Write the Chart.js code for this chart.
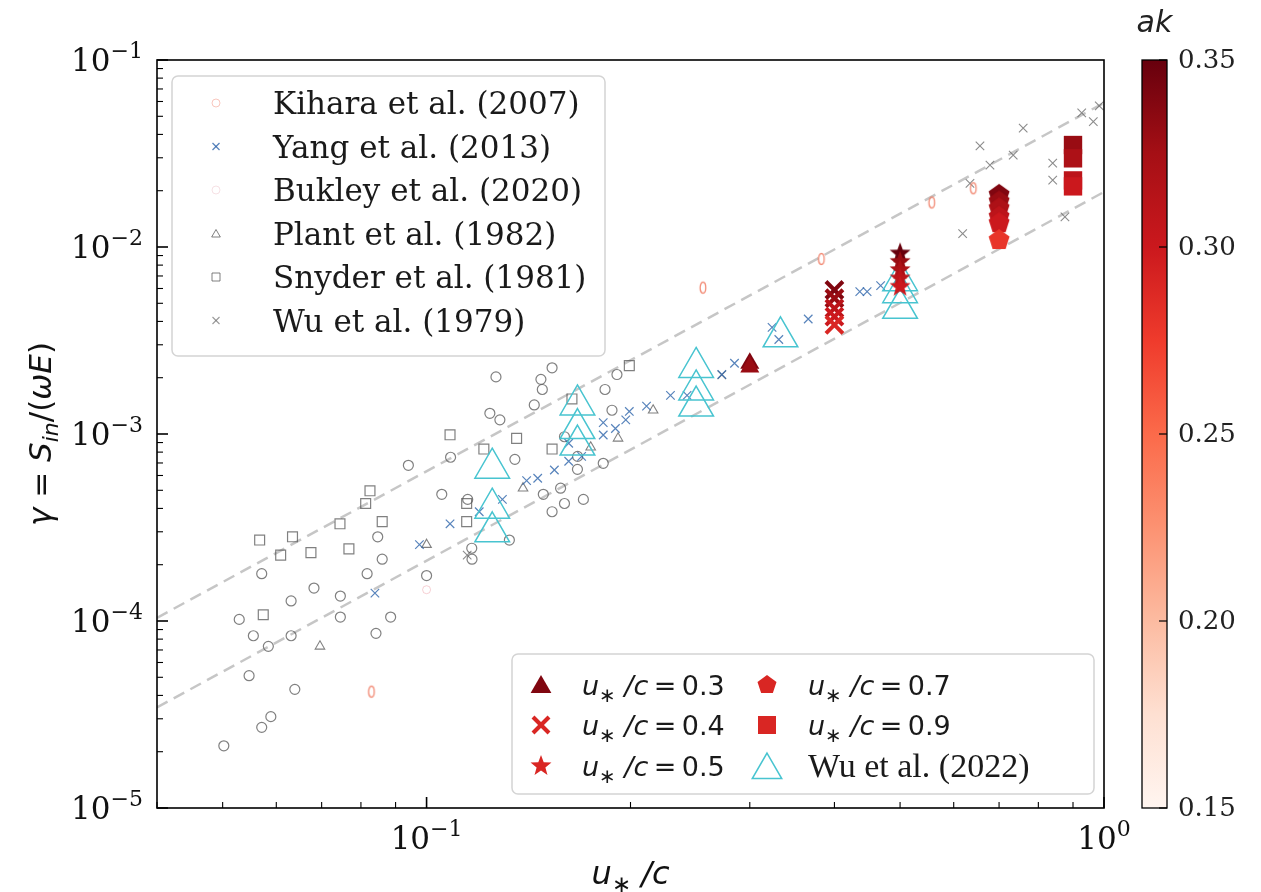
<!DOCTYPE html>
<html>
<head>
<meta charset="utf-8">
<script src="https://cdn.jsdelivr.net/npm/chart.js@4.4.1/dist/chart.umd.min.js"></script>
<style>
    html, body { margin: 0; padding: 0; background: #ffffff; }
    #wrap { width: 1261px; height: 892px; }
</style>
</head>
<body>
<div id="wrap"><canvas id="chart" width="1261" height="892"></canvas></div>
<script>
// ---- data ----
// grey open circles (no legend entry)
const circX = [0.1266, 0.1532, 0.1475, 0.1482, 0.1442, 0.1240, 0.1283, 0.0940, 0.1085, 0.1350, 0.1053, 0.1150,
    0.1487, 0.1577, 0.1532, 0.1598, 0.1704, 0.1670, 0.1823, 0.1671, 0.1598, 0.1325, 0.0847, 0.0860, 0.1166, 0.1167,
    0.0571, 0.0817, 0.1000, 0.1834, 0.1910, 0.1878, 0.0682, 0.0631, 0.0746, 0.0529, 0.0555, 0.0584, 0.0631, 0.0746,
    0.0842, 0.0885, 0.0547, 0.0639, 0.0589, 0.0571, 0.0502];
const circY = [2.02e-3, 2.26e-3, 1.96e-3, 1.73e-3, 1.43e-3, 1.29e-3, 1.19e-3, 6.80e-4, 7.51e-4, 7.32e-4, 4.76e-4, 4.47e-4,
    4.76e-4, 5.13e-4, 3.84e-4, 4.25e-4, 4.47e-4, 6.47e-4, 6.97e-4, 7.59e-4, 9.67e-4, 2.71e-4, 2.82e-4, 2.14e-4, 2.45e-4, 2.14e-4,
    1.79e-4, 1.79e-4, 1.75e-4, 1.73e-3, 2.08e-3, 1.34e-3, 1.50e-4, 1.28e-4, 1.36e-4, 1.02e-4, 8.34e-5, 7.32e-5, 8.34e-5, 1.05e-4,
    8.59e-5, 1.05e-4, 5.10e-5, 4.31e-5, 3.08e-5, 2.70e-5, 2.15e-5];

const kiharaX = [0.0829, 0.2558, 0.3826, 0.5568, 0.6412];
const kiharaY = [4.19e-5, 6.06e-3, 8.63e-3, 1.73e-2, 2.06e-2];

const yangX = [0.1083, 0.0976, 0.0839, 0.1196, 0.1294, 0.1405, 0.1459, 0.1544, 0.1621, 0.1621, 0.1823, 0.1823, 0.1694,
    0.1900, 0.1968, 0.1992, 0.2112, 0.2291, 0.2424, 0.2728, 0.2848, 0.3236, 0.3311, 0.3659, 0.436, 0.447, 0.468];
const yangY = [3.31e-4, 2.56e-4, 1.41e-4, 3.84e-4, 4.47e-4, 5.63e-4, 5.80e-4, 6.42e-4, 7.15e-4, 8.92e-4, 1.15e-3, 9.88e-4, 7.59e-4,
    1.07e-3, 1.19e-3, 1.32e-3, 1.41e-3, 1.61e-3, 1.61e-3, 2.08e-3, 2.39e-3, 3.72e-3, 3.20e-3, 4.12e-3, 5.77e-3, 5.77e-3, 6.21e-3];

const bukleyX = [0.1];
const bukleyY = [1.47e-4];

const plantX = [0.0696, 0.1, 0.1388, 0.1747, 0.1917, 0.216];
const plantY = [7.32e-5, 2.56e-4, 5.13e-4, 8.49e-4, 9.48e-4, 1.34e-3];

const snyderX = [0.1083, 0.1358, 0.1215, 0.1532, 0.1639, 0.1992, 0.0825, 0.0813, 0.0745, 0.0860, 0.1146, 0.1146,
    0.0567, 0.0634, 0.0609, 0.0675, 0.0768, 0.0574];
const snyderY = [9.90e-4, 9.48e-4, 8.31e-4, 8.31e-4, 1.54e-3, 2.32e-3, 4.97e-4, 4.25e-4, 3.31e-4, 3.40e-4, 4.25e-4, 3.40e-4,
    2.71e-4, 2.82e-4, 2.25e-4, 2.32e-4, 2.43e-4, 1.08e-4];

const wu79X = [0.1148, 0.2728, 0.7598, 0.656, 0.6787, 0.7345, 0.927, 0.984, 0.9643, 0.84, 0.84, 0.6185, 0.8757, 0.8887, 0.6341];
const wu79Y = [2.25e-4, 2.07e-3, 4.32e-2, 3.47e-2, 2.74e-2, 3.10e-2, 5.22e-2, 5.68e-2, 4.68e-2, 2.81e-2, 2.28e-2, 1.18e-2, 1.45e-2, 3.47e-2, 2.19e-2];

const wu22X = [0.125, 0.125, 0.125, 0.167, 0.167, 0.167, 0.25, 0.25, 0.25, 0.333, 0.5, 0.5, 0.5];
const wu22Y = [6.56e-4, 4.01e-4, 3.00e-4, 1.43e-3, 1.07e-3, 8.73e-4, 2.27e-3, 1.72e-3, 1.41e-3, 3.31e-3, 4.7e-3, 5.7e-3, 6.6e-3];

// present simulations, one group per u*/c, coloured by ak
const ratios = [0.3, 0.4, 0.5, 0.7, 0.9];
const sim03Y = [2.39e-3, 2.28e-3];
const sim03Ak = [0.34, 0.33];
const sim04Y = [5.89e-3, 5.32e-3, 4.70e-3, 4.24e-3, 3.83e-3];
const sim04Ak = [0.34, 0.33, 0.31, 0.30, 0.29];
const sim05Y = [9.24e-3, 8.33e-3, 7.53e-3, 6.80e-3, 6.13e-3];
const sim05Ak = [0.35, 0.33, 0.32, 0.31, 0.30];
const sim07Y = [1.90e-2, 1.75e-2, 1.61e-2, 1.45e-2, 1.34e-2, 1.09e-2];
const sim07Ak = [0.34, 0.33, 0.32, 0.31, 0.30, 0.28];
const sim09Y = [3.51e-2, 2.98e-2, 2.27e-2, 2.11e-2];
const sim09Ak = [0.33, 0.32, 0.31, 0.30];

// dashed guide lines (end points)
const fitX = [0.04, 1.0];
const fitUpperY = [1.04e-4, 5.9e-2];
const fitLowerY = [3.45e-5, 1.97e-2];

// axes / colour bar ticks
const xTicks = [0.1, 1];
const yTicks = [1e-5, 1e-4, 1e-3, 1e-2, 1e-1];
const cbarTicks = [0.15, 0.20, 0.25, 0.30, 0.35];

// ---- helpers ----
const redsStops = ['#fff5f0', '#fee0d2', '#fcbba1', '#fc9272', '#fb6a4a', '#ef3b2c', '#cb181d', '#a50f15', '#67000d'];

function hexToRgb(h) {
    const n = parseInt(h.slice(1), 16);
    return [(n >> 16) & 255, (n >> 8) & 255, n & 255];
}

function reds(t) {
    t = Math.max(0, Math.min(1, t));
    const p = t * (redsStops.length - 1);
    const i = Math.min(Math.floor(p), redsStops.length - 2);
    const f = p - i;
    const a = hexToRgb(redsStops[i]);
    const b = hexToRgb(redsStops[i + 1]);
    const c = a.map((v, k) => Math.round(v + (b[k] - v) * f));
    return `rgb(${c[0]},${c[1]},${c[2]})`;
}

function akColor(ak) {
    const lo = cbarTicks[0];
    const hi = cbarTicks[cbarTicks.length - 1];
    return reds((ak - lo) / (hi - lo));
}

function pts(xs, ys) {
    return xs.map((x, i) => ({ x: x, y: ys[i] }));
}

// polygon marker drawn into a small canvas, used as a Chart.js pointStyle
function polyMarker(shape, color, r) {
    const s = Math.ceil(r * 2 + 4);
    const c = document.createElement('canvas');
    c.width = s;
    c.height = s;
    const g = c.getContext('2d');
    tracePoly(g, shape, s / 2, s / 2, r);
    g.fillStyle = color;
    g.fill();
    return c;
}

function tracePoly(g, shape, cx, cy, r) {
    g.beginPath();
    if (shape === 'star') {
        for (let i = 0; i < 10; i++) {
            const rr = i % 2 ? r * 0.42 : r;
            const ang = -Math.PI / 2 + i * Math.PI / 5;
            g.lineTo(cx + rr * Math.cos(ang), cy + rr * Math.sin(ang));
        }
    } else if (shape === 'pentagon') {
        for (let i = 0; i < 5; i++) {
            const ang = -Math.PI / 2 + i * 2 * Math.PI / 5;
            g.lineTo(cx + r * Math.cos(ang), cy + r * Math.sin(ang));
        }
    } else if (shape === 'triangle') {
        for (let i = 0; i < 3; i++) {
            const ang = -Math.PI / 2 + i * 2 * Math.PI / 3;
            g.lineTo(cx + r * Math.cos(ang), cy + r * Math.sin(ang));
        }
    } else if (shape === 'square') {
        g.rect(cx - r, cy - r, 2 * r, 2 * r);
    } else if (shape === 'circle') {
        g.arc(cx, cy, r, 0, Math.PI * 2);
    }
    g.closePath();
}

// narrow open ellipse (Kihara markers look like a "0")
function ellipseMarker(color) {
    const c = document.createElement('canvas');
    c.width = 12;
    c.height = 16;
    const g = c.getContext('2d');
    g.beginPath();
    g.ellipse(6, 8, 2.8, 5.5, 0, 0, Math.PI * 2);
    g.strokeStyle = color;
    g.lineWidth = 1.3;
    g.stroke();
    return c;
}

const GREY = 'rgba(85,85,85,0.75)';
const BLUE = 'rgba(45,100,170,0.8)';
const KIHARA = 'rgba(240,120,95,0.85)';
const CYAN = 'rgb(72,196,208)';
const SERIF = '"DejaVu Serif", serif';
const TIMES = '"Liberation Serif", "Times New Roman", serif';
const SANS = '"DejaVu Sans", sans-serif';

function simDataset(ratio, ys, aks, marker) {
    const colors = aks.map(akColor);
    const ds = {
        label: 'u*/c=' + ratio,
        data: ys.map(y => ({ x: ratio, y: y })),
        order: 1
    };
    if (marker === 'cross') {
        ds.pointStyle = 'crossRot';
        ds.pointRadius = 12;
        ds.pointBorderWidth = 4;
        ds.pointBorderColor = colors;
    } else if (marker === 'triangle') {
        ds.pointStyle = 'triangle';
        ds.pointRadius = 11;
        ds.pointBackgroundColor = colors;
        ds.pointBorderColor = colors;
        ds.pointBorderWidth = 0;
    } else if (marker === 'square') {
        ds.pointStyle = 'rect';
        ds.pointRadius = 13;
        ds.pointBackgroundColor = colors;
        ds.pointBorderColor = colors;
        ds.pointBorderWidth = 0;
    } else {
        ds.pointStyle = colors.map(c => polyMarker(marker, c, 11));
    }
    return ds;
}

// mixed-font text runs: [text, font, dy]
function runsWidth(ctx, runs) {
    let w = 0;
    for (const r of runs) {
        ctx.font = r[1];
        w += ctx.measureText(r[0]).width;
    }
    return w;
}

function drawRuns(ctx, x, y, runs) {
    for (const r of runs) {
        ctx.font = r[1];
        ctx.fillText(r[0], x, y + (r[2] || 0));
        x += ctx.measureText(r[0]).width;
    }
    return x;
}

function powRuns(v) {
    const e = Math.round(Math.log10(v));
    return [['10', `31px ${SERIF}`], [(e < 0 ? '\u2212' : '') + Math.abs(e), `22px ${SERIF}`, -13]];
}

function ratioRuns(txt) {
    return [
        ['u', `italic 27px ${SANS}`],
        ['\u2217', `20px ${SANS}`, 7],
        [' /', `italic 27px ${SANS}`],
        ['c', `italic 27px ${SANS}`],
        ['\u2009=\u2009' + txt, `27px ${SANS}`]
    ];
}

function strokeLine(ctx, x1, y1, x2, y2) {
    ctx.beginPath();
    ctx.moveTo(x1, y1);
    ctx.lineTo(x2, y2);
    ctx.stroke();
}

function drawCross(ctx, x, y, h, lw, color) {
    ctx.strokeStyle = color;
    ctx.lineWidth = lw;
    strokeLine(ctx, x - h, y - h, x + h, y + h);
    strokeLine(ctx, x - h, y + h, x + h, y - h);
}

function legendBox(ctx, x, y, w, h) {
    ctx.save();
    ctx.beginPath();
    ctx.roundRect(x, y, w, h, 6);
    ctx.fillStyle = 'rgba(255,255,255,0.82)';
    ctx.fill();
    ctx.strokeStyle = '#d4d4d4';
    ctx.lineWidth = 1.5;
    ctx.stroke();
    ctx.restore();
}

// axes frame, inward ticks, labels, legends and colour bar
const decorPlugin = {
    id: 'decor',
    afterDraw(chart) {
        const ctx = chart.ctx;
        const a = chart.chartArea;
        const xs = chart.scales.x;
        const ys = chart.scales.y;
        ctx.save();
        ctx.fillStyle = '#111';
        ctx.strokeStyle = '#000';
        ctx.textBaseline = 'alphabetic';

        // --- minor / major ticks, pointing into the axes ---
        const yLo = Math.log10(ys.min), yHi = Math.log10(ys.max);
        for (let e = Math.floor(yLo); e <= Math.ceil(yHi); e++) {
            for (let m = 1; m <= 9; m++) {
                const v = m * Math.pow(10, e);
                if (v < ys.min * 0.999 || v > ys.max * 1.001) continue;
                const py = ys.getPixelForValue(v);
                ctx.lineWidth = m === 1 ? 1.6 : 1.1;
                strokeLine(ctx, a.left, py, a.left + (m === 1 ? 11 : 6), py);
            }
        }
        const xLo = Math.log10(xs.min), xHi = Math.log10(xs.max);
        for (let e = Math.floor(xLo); e <= Math.ceil(xHi); e++) {
            for (let m = 1; m <= 9; m++) {
                const v = m * Math.pow(10, e);
                if (v < xs.min * 0.999 || v > xs.max * 1.001) continue;
                const px = xs.getPixelForValue(v);
                ctx.lineWidth = m === 1 ? 1.6 : 1.1;
                strokeLine(ctx, px, a.bottom, px, a.bottom - (m === 1 ? 11 : 6));
            }
        }

        // --- frame ---
        ctx.lineWidth = 1.6;
        ctx.strokeRect(a.left, a.top, a.right - a.left, a.bottom - a.top);

        // --- tick labels ---
        for (const v of yTicks) {
            const runs = powRuns(v);
            const w = runsWidth(ctx, runs);
            drawRuns(ctx, a.left - 14 - w, ys.getPixelForValue(v) + 11, runs);
        }
        for (const v of xTicks) {
            const runs = powRuns(v);
            const w = runsWidth(ctx, runs);
            drawRuns(ctx, xs.getPixelForValue(v) - w / 2, a.bottom + 41, runs);
        }

        // --- axis titles ---
        const xt = [
            ['u', `italic 32px ${SANS}`],
            ['\u2217', `23px ${SANS}`, 8],
            [' /', `italic 32px ${SANS}`],
            ['c', `italic 32px ${SANS}`]
        ];
        drawRuns(ctx, (a.left + a.right) / 2 - runsWidth(ctx, xt) / 2, 884, xt);

        const yt = [
            ['\u03b3', `italic 31px ${SANS}`],
            [' = ', `31px ${SANS}`],
            ['S', `italic 31px ${SANS}`],
            ['in', `italic 22px ${SANS}`, 7],
            ['/(', `31px ${SANS}`],
            ['\u03c9E', `italic 31px ${SANS}`],
            [')', `31px ${SANS}`]
        ];
        ctx.save();
        ctx.translate(51, (a.top + a.bottom) / 2);
        ctx.rotate(-Math.PI / 2);
        drawRuns(ctx, -runsWidth(ctx, yt) / 2, 0, yt);
        ctx.restore();

        // --- legend of published data ---
        legendBox(ctx, 172, 76, 433, 280);
        const rows = [
            ['Kihara et al. (2007)', 'kihara'],
            ['Yang et al. (2013)', 'yang'],
            ['Bukley et al. (2020)', 'bukley'],
            ['Plant et al. (1982)', 'plant'],
            ['Snyder et al. (1981)', 'snyder'],
            ['Wu et al. (1979)', 'wu79']
        ];
        rows.forEach((row, i) => {
            const cy = 103 + i * 43.5;
            const mx = 216;
            ctx.lineWidth = 1;
            if (row[1] === 'kihara') {
                ctx.strokeStyle = 'rgba(240,130,110,0.45)';
                tracePoly(ctx, 'circle', mx, cy, 4);
                ctx.stroke();
            } else if (row[1] === 'yang') {
                drawCross(ctx, mx, cy, 3.5, 1.2, BLUE);
            } else if (row[1] === 'bukley') {
                ctx.strokeStyle = 'rgba(230,170,180,0.35)';
                tracePoly(ctx, 'circle', mx, cy, 4);
                ctx.stroke();
            } else if (row[1] === 'plant') {
                ctx.strokeStyle = GREY;
                tracePoly(ctx, 'triangle', mx, cy + 1, 5);
                ctx.stroke();
            } else if (row[1] === 'snyder') {
                ctx.strokeStyle = GREY;
                tracePoly(ctx, 'square', mx, cy, 4);
                ctx.stroke();
            } else {
                drawCross(ctx, mx, cy, 3.5, 1.1, 'rgba(110,110,110,0.7)');
            }
            ctx.fillStyle = '#1a1a1a';
            ctx.font = `31px ${SERIF}`;
            ctx.fillText(row[0], 273, cy + 11);
        });

        // --- legend of present results ---
        legendBox(ctx, 512, 654, 582, 140);
        const rowY = [685, 725, 766];
        const mid = akColor(0.29);
        ctx.fillStyle = akColor(0.34);
        tracePoly(ctx, 'triangle', 541, rowY[0] + 2, 12);
        ctx.fill();
        drawCross(ctx, 541, rowY[1], 8, 4, mid);
        ctx.fillStyle = mid;
        tracePoly(ctx, 'star', 541, rowY[2], 11);
        ctx.fill();
        tracePoly(ctx, 'pentagon', 767, rowY[0], 10);
        ctx.fill();
        tracePoly(ctx, 'square', 767, rowY[1], 9);
        ctx.fill();
        ctx.strokeStyle = CYAN;
        ctx.lineWidth = 1.5;
        tracePoly(ctx, 'triangle', 767, rowY[2] + 4, 17);
        ctx.stroke();
        ctx.fillStyle = '#1a1a1a';
        drawRuns(ctx, 582, rowY[0] + 10, ratioRuns(ratios[0].toFixed(1)));
        drawRuns(ctx, 582, rowY[1] + 10, ratioRuns(ratios[1].toFixed(1)));
        drawRuns(ctx, 582, rowY[2] + 10, ratioRuns(ratios[2].toFixed(1)));
        drawRuns(ctx, 808, rowY[0] + 10, ratioRuns(ratios[3].toFixed(1)));
        drawRuns(ctx, 808, rowY[1] + 10, ratioRuns(ratios[4].toFixed(1)));
        ctx.font = `34px ${TIMES}`;
        ctx.fillText('Wu et al. (2022)', 808, rowY[2] + 11);

        // --- colour bar ---
        const cbL = 1142, cbW = 25, cbT = a.top, cbB = a.bottom;
        const grad = ctx.createLinearGradient(0, cbB, 0, cbT);
        redsStops.forEach((c, i) => grad.addColorStop(i / (redsStops.length - 1), c));
        ctx.fillStyle = grad;
        ctx.fillRect(cbL, cbT, cbW, cbB - cbT);
        ctx.strokeStyle = '#000';
        ctx.lineWidth = 1.3;
        ctx.strokeRect(cbL, cbT, cbW, cbB - cbT);
        const lo = cbarTicks[0], hi = cbarTicks[cbarTicks.length - 1];
        ctx.fillStyle = '#222';
        ctx.font = `26px ${SERIF}`;
        ctx.textBaseline = 'middle';
        for (const t of cbarTicks) {
            const py = cbB - (t - lo) / (hi - lo) * (cbB - cbT);
            ctx.lineWidth = 1.2;
            strokeLine(ctx, cbL + cbW - 8, py, cbL + cbW, py);
            ctx.fillText(t.toFixed(2), 1178, py + 1);
        }
        ctx.textBaseline = 'alphabetic';
        ctx.font = `italic 30px ${SANS}`;
        ctx.textAlign = 'center';
        ctx.fillText('ak', cbL + cbW / 2, 32);
        ctx.restore();
    }
};

const datasets = [
    {
        type: 'line', label: 'upper', data: pts(fitX, fitUpperY),
        borderColor: 'rgba(195,195,195,0.95)', borderWidth: 2.5, borderDash: [12, 7],
        pointRadius: 0, fill: false, order: 9
    },
    {
        type: 'line', label: 'lower', data: pts(fitX, fitLowerY),
        borderColor: 'rgba(195,195,195,0.95)', borderWidth: 2.5, borderDash: [12, 7],
        pointRadius: 0, fill: false, order: 9
    },
    {
        label: 'circles', data: pts(circX, circY), pointStyle: 'circle', pointRadius: 5,
        pointBorderWidth: 1.2, borderColor: GREY, backgroundColor: 'transparent', order: 5
    },
    {
        label: 'Snyder et al. (1981)', data: pts(snyderX, snyderY), pointStyle: 'rect', pointRadius: 7,
        pointBorderWidth: 1.2, borderColor: GREY, backgroundColor: 'transparent', order: 5
    },
    {
        label: 'Plant et al. (1982)', data: pts(plantX, plantY), pointStyle: 'triangle', pointRadius: 5.5,
        pointBorderWidth: 1.1, borderColor: GREY, backgroundColor: 'transparent', order: 5
    },
    {
        label: 'Wu et al. (1979)', data: pts(wu79X, wu79Y), pointStyle: 'crossRot', pointRadius: 6,
        pointBorderWidth: 1.1, borderColor: 'rgba(100,100,100,0.75)', order: 5
    },
    {
        label: 'Yang et al. (2013)', data: pts(yangX, yangY), pointStyle: 'crossRot', pointRadius: 6,
        pointBorderWidth: 1.2, borderColor: BLUE, order: 4
    },
    {
        label: 'Bukley et al. (2020)', data: pts(bukleyX, bukleyY), pointStyle: 'circle', pointRadius: 4,
        pointBorderWidth: 1, borderColor: 'rgba(235,150,160,0.45)', backgroundColor: 'transparent', order: 4
    },
    {
        label: 'Kihara et al. (2007)', data: pts(kiharaX, kiharaY), pointStyle: ellipseMarker(KIHARA), order: 4
    },
    {
        label: 'Wu et al. (2022)', data: pts(wu22X, wu22Y), pointStyle: 'triangle', pointRadius: 20,
        pointBorderWidth: 1.5, borderColor: CYAN, backgroundColor: 'transparent', order: 3
    },
    simDataset(ratios[0], sim03Y, sim03Ak, 'triangle'),
    simDataset(ratios[1], sim04Y, sim04Ak, 'cross'),
    simDataset(ratios[2], sim05Y, sim05Ak, 'star'),
    simDataset(ratios[3], sim07Y, sim07Ak, 'pentagon'),
    simDataset(ratios[4], sim09Y, sim09Ak, 'square')
];

new Chart(document.getElementById('chart'), {
    type: 'scatter',
    data: { datasets: datasets },
    options: {
        responsive: false,
        animation: false,
        devicePixelRatio: 1,
        layout: { padding: { top: 60, right: 157, left: 0, bottom: 0 } },
        plugins: {
            legend: { display: false },
            tooltip: { enabled: false },
            title: { display: false }
        },
        scales: {
            x: {
                type: 'logarithmic', min: 0.04, max: 1,
                ticks: { display: false }, grid: { display: false }, border: { display: false },
                afterFit: scale => { scale.height = 84; }
            },
            y: {
                type: 'logarithmic', min: 1e-5, max: 1e-1,
                ticks: { display: false }, grid: { display: false }, border: { display: false },
                afterFit: scale => { scale.width = 157; }
            }
        }
    },
    plugins: [decorPlugin]
});
</script>
</body>
</html>
